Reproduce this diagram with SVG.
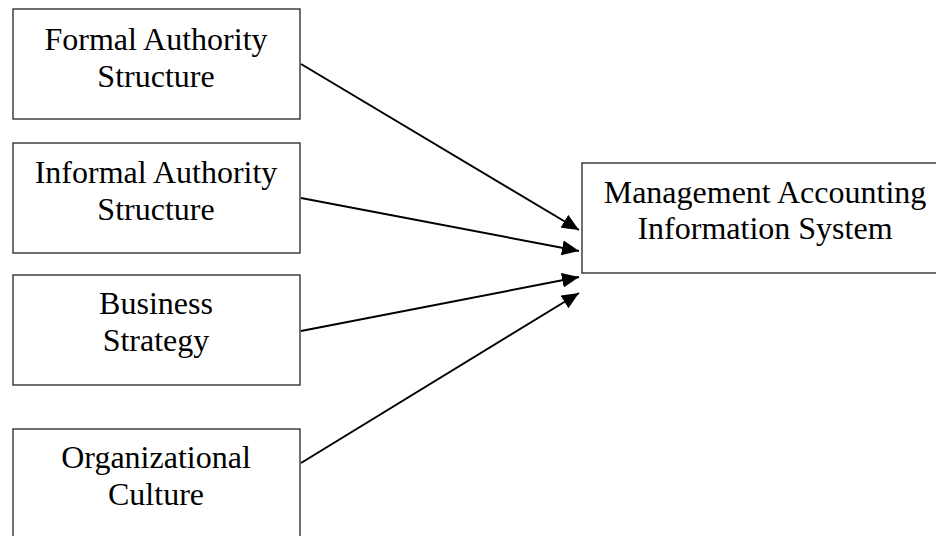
<svg xmlns="http://www.w3.org/2000/svg" width="936" height="536" viewBox="0 0 936 536">
<style>
.box{fill:#fff;stroke:#222;stroke-width:1.3}
.lbl{font-family:"Liberation Serif","Times New Roman",serif;font-size:32px;fill:#000;text-anchor:middle}
.conn{stroke:#000;stroke-width:2;fill:none;marker-end:url(#ah)}
</style>
<defs>
<marker id="ah" markerUnits="userSpaceOnUse" markerWidth="18" markerHeight="16" refX="17" refY="7.5" orient="auto">
<path d="M0,0 L17,7.5 L0,15 Z" fill="#000"/>
</marker>
</defs>
<rect width="936" height="536" fill="#fff"/>
<g id="formal">
<rect class="box" x="13" y="9" width="287" height="110"/>
<text class="lbl" x="156" y="50">Formal Authority</text>
<text class="lbl" x="156" y="87">Structure</text>
</g>
<g id="informal">
<rect class="box" x="13" y="143" width="287" height="110"/>
<text class="lbl" x="156" y="183">Informal Authority</text>
<text class="lbl" x="156" y="220">Structure</text>
</g>
<g id="strategy">
<rect class="box" x="13" y="275" width="287" height="110"/>
<text class="lbl" x="156" y="314">Business</text>
<text class="lbl" x="156" y="351">Strategy</text>
</g>
<g id="culture">
<rect class="box" x="13" y="429" width="287" height="120"/>
<text class="lbl" x="156" y="468">Organizational</text>
<text class="lbl" x="156" y="505">Culture</text>
</g>
<g id="mais">
<rect class="box" x="582" y="163" width="370" height="110"/>
<text class="lbl" x="765" y="203">Management Accounting</text>
<text class="lbl" x="765" y="239">Information System</text>
</g>
<g id="connectors">
<line class="conn" x1="301" y1="64" x2="579" y2="230"/>
<line class="conn" x1="301" y1="198" x2="579" y2="251"/>
<line class="conn" x1="301" y1="331" x2="579" y2="277"/>
<line class="conn" x1="301" y1="463" x2="579" y2="293"/>
</g>
</svg>
